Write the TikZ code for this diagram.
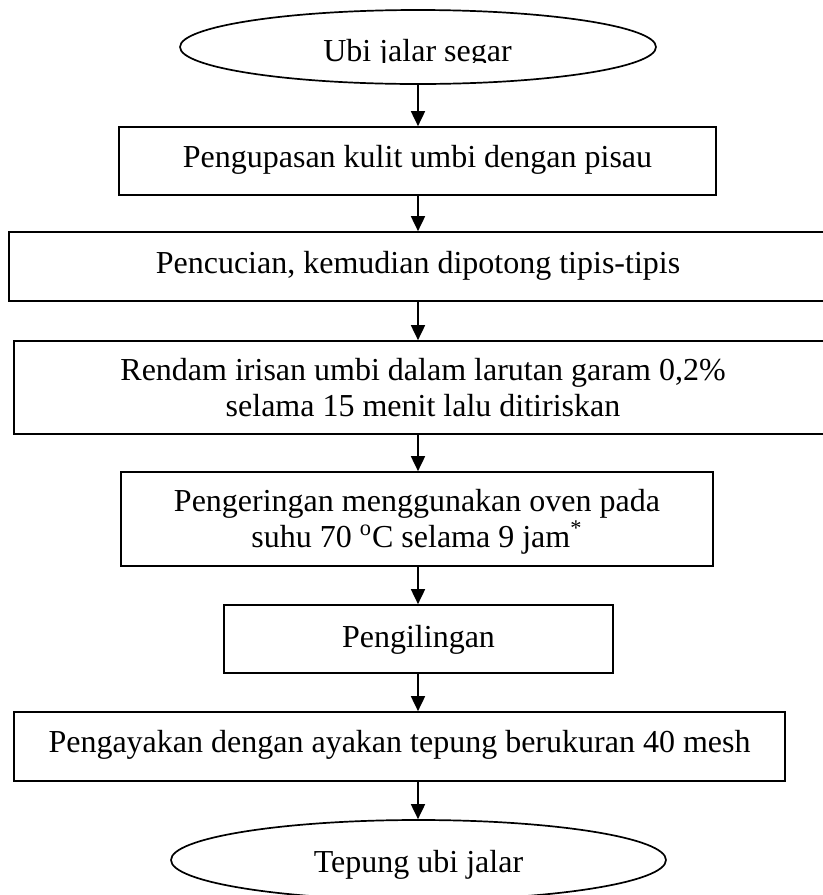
\documentclass[tikz,border=0pt]{standalone}
\usepackage{fontspec}
\setmainfont{Liberation Serif}
\usetikzlibrary{shapes.geometric,arrows.meta}
\begin{document}
\begin{tikzpicture}[x=0.5pt,y=-0.5pt,
  every node/.style={font=\fontsize{16pt}{18.25pt}\selectfont, inner sep=0pt, line width=0.85pt},
  stepbox/.style={draw, rectangle, align=center},
  term/.style={draw, ellipse},
  label text/.style={anchor=base},
  arr/.style={line width=0.9pt, -{Triangle[length=7.5pt,width=7pt]}}]
\clip (0,0) rectangle (823,895);
\coordinate (spine) at (418,0);
% start terminal
\node[term, minimum width=238pt, minimum height=37pt] (e1) at (418,47) {};
\begin{scope}
  \clip (0,0) rectangle (823,62);
  \node[label text] (t1) at (417.5,61) {Ubi jalar segar};
\end{scope}
% process steps
\node[stepbox, minimum width=298.5pt, minimum height=34pt, text height=10pt, text depth=4pt] (b1) at (417.5,161) {Pengupasan kulit umbi dengan pisau};
\node[stepbox, minimum width=409pt, minimum height=34.5pt, text height=10.5pt, text depth=4pt] (b2) at (418,266.5) {Pencucian, kemudian dipotong tipis-tipis};
\node[stepbox, minimum width=409pt, minimum height=46.5pt] (b3) at (423,387.5) {Rendam irisan umbi dalam larutan garam 0,2\%\\selama 15 menit lalu ditiriskan};
\node[stepbox, minimum width=296pt, minimum height=47pt] (b4) at (417,519) {\rule{0pt}{14pt}Pengeringan menggunakan oven pada\\suhu 70 \textsuperscript{o}C selama 9 jam\textsuperscript{*}};
\node[stepbox, minimum width=194.5pt, minimum height=34pt, text height=12pt, text depth=4pt] (b5) at (418.5,639) {Pengilingan};
\node[stepbox, minimum width=385.5pt, minimum height=34.5pt, text height=9.5pt, text depth=4pt] (b6) at (399.5,746.5) {Pengayakan dengan ayakan tepung berukuran 40 mesh};
% end terminal
\node[term, minimum width=247.5pt, minimum height=40pt, text height=14pt, text depth=2pt] (e2) at (418.5,860) {Tepung ubi jalar};
% connectors
\draw[arr] (spine |- e1.south) -- (spine |- b1.north);
\draw[arr] (spine |- b1.south) -- (spine |- b2.north);
\draw[arr] (spine |- b2.south) -- (spine |- b3.north);
\draw[arr] (spine |- b3.south) -- (spine |- b4.north);
\draw[arr] (spine |- b4.south) -- (spine |- b5.north);
\draw[arr] (spine |- b5.south) -- (spine |- b6.north);
\draw[arr] (spine |- b6.south) -- (spine |- e2.north);
\end{tikzpicture}
\end{document}
